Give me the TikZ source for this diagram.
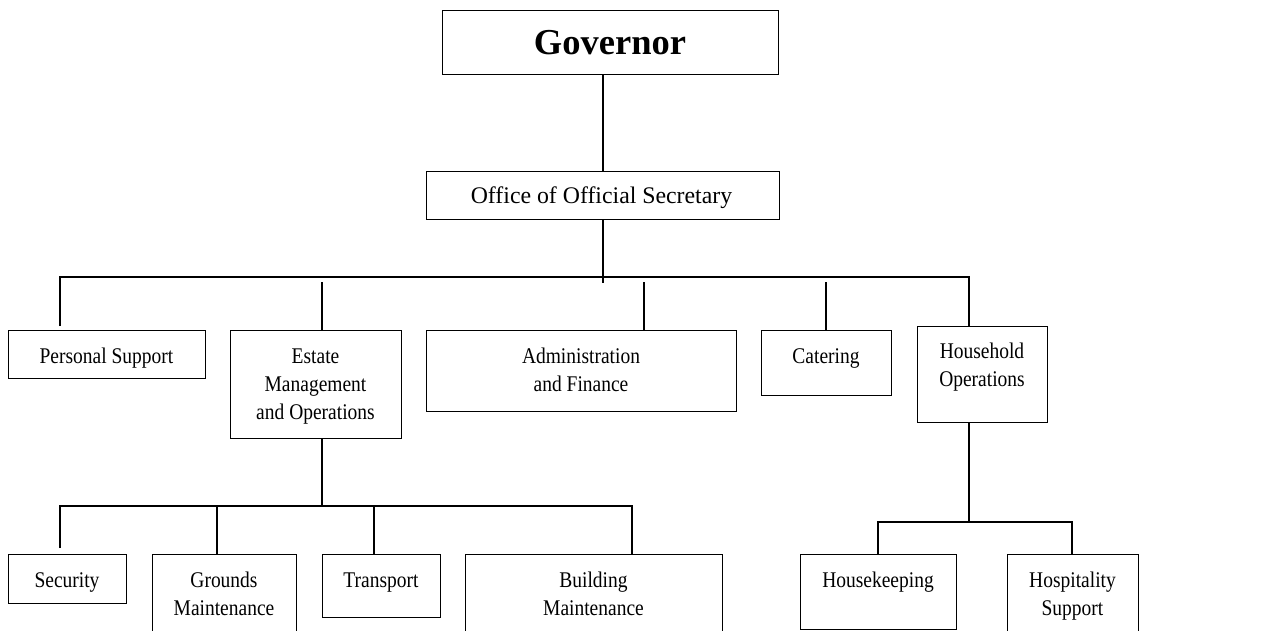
\documentclass[tikz,border=0pt]{standalone}
\usepackage{fontspec}
\setmainfont{Liberation Serif}
\newfontfamily\narrowserif[FakeStretch=0.87]{Liberation Serif}
\begin{document}
\begin{tikzpicture}[x=1pt,y=-1pt,
  box/.style={draw=black,line width=1.3pt,inner sep=0pt,anchor=north west},
  lbl/.style={anchor=base,inner sep=0pt,font=\narrowserif\fontsize{22.4}{28}\selectfont},
  conn/.style={draw=black,line width=1.2pt}]
\useasboundingbox (0,0) rectangle (1265,631);
\clip (0,0) rectangle (1265,631);
\fill[white] (0,0) rectangle (1265,631);
% boxes
\node[box,minimum width=336pt,minimum height=64pt] (gov) at (442,10) {};
\node[box,minimum width=353pt,minimum height=48pt] (off) at (426,171) {};
\node[box,minimum width=197pt,minimum height=48pt] (ps) at (8,330) {};
\node[box,minimum width=171pt,minimum height=108pt] (est) at (230,330) {};
\node[box,minimum width=310pt,minimum height=81pt] (adm) at (426,330) {};
\node[box,minimum width=130pt,minimum height=65pt] (cat) at (761,330) {};
\node[box,minimum width=130pt,minimum height=96pt] (hh) at (917,326) {};
\node[box,minimum width=118pt,minimum height=49pt] (sec) at (8,554) {};
\node[box,minimum width=144pt,minimum height=100pt] (gro) at (152,554) {};
\node[box,minimum width=118pt,minimum height=63pt] (tra) at (322,554) {};
\node[box,minimum width=257pt,minimum height=100pt] (bld) at (465,554) {};
\node[box,minimum width=156pt,minimum height=75pt] (hk) at (800,554) {};
\node[box,minimum width=131pt,minimum height=100pt] (hsp) at (1007,554) {};
% labels
\node[anchor=base,inner sep=0pt,font=\fontsize{36.5}{40}\selectfont\bfseries] (tgov) at (610,55) {Governor};
\node[anchor=base,inner sep=0pt,font=\fontsize{23.8}{28}\selectfont] (toff) at (601.5,203) {Office of Official Secretary};
\node[lbl] (tps) at (106.5,363) {Personal Support};
\node[lbl] (test1) at (315.5,363) {Estate};
\node[lbl] (test2) at (315.5,391) {Management};
\node[lbl] (test3) at (315.5,419) {and Operations};
\node[lbl] (tadm1) at (581,363) {Administration};
\node[lbl] (tadm2) at (581,391) {and Finance};
\node[lbl] (tcat) at (826,363) {Catering};
\node[lbl] (thh1) at (982,358) {Household};
\node[lbl] (thh2) at (982,386) {Operations};
\node[lbl] (tsec) at (67,587) {Security};
\node[lbl] (tgro1) at (224,587) {Grounds};
\node[lbl] (tgro2) at (224,615) {Maintenance};
\node[lbl] (ttra) at (381,587) {Transport};
\node[lbl] (tbld1) at (593.5,587) {Building};
\node[lbl] (tbld2) at (593.5,615) {Maintenance};
\node[lbl] (thk) at (878,587) {Housekeeping};
\node[lbl] (thsp1) at (1072.5,587) {Hospitality};
\node[lbl] (thsp2) at (1072.5,615) {Support};
% bus coordinates
\coordinate (busO) at (603,283);
\coordinate (busL) at (60,277);
\coordinate (busR) at (969,277);
\coordinate (cEst) at (322,282);
\coordinate (cAdm) at (644,282);
\coordinate (cCat) at (826,282);
\coordinate (psEnd) at (60,326);
\coordinate (estBus) at (322,506);
\coordinate (sbL) at (60,506);
\coordinate (sbR) at (632,506);
\coordinate (secEnd) at (60,548);
\coordinate (cGro) at (217,506);
\coordinate (cTra) at (374,506);
\coordinate (hhBus) at (969,522);
\coordinate (hbL) at (878,522);
\coordinate (hbR) at (1072,522);
% connectors
\draw[conn] (gov.south -| busO) -- (off.north -| busO);
\draw[conn] (off.south -| busO) -- (busO);
\draw[conn] (psEnd) -- (busL) -- (busR) -- (busR |- hh.north);
\draw[conn] (cEst) -- (cEst |- est.north);
\draw[conn] (cAdm) -- (cAdm |- adm.north);
\draw[conn] (cCat) -- (cCat |- cat.north);
\draw[conn] (est.south -| estBus) -- (estBus);
\draw[conn] (secEnd) -- (sbL) -- (sbR) -- (sbR |- bld.north);
\draw[conn] (cGro) -- (cGro |- gro.north);
\draw[conn] (cTra) -- (cTra |- tra.north);
\draw[conn] (hh.south -| hhBus) -- (hhBus);
\draw[conn] (hbL |- hk.north) -- (hbL) -- (hbR) -- (hbR |- hsp.north);
\end{tikzpicture}
\end{document}
